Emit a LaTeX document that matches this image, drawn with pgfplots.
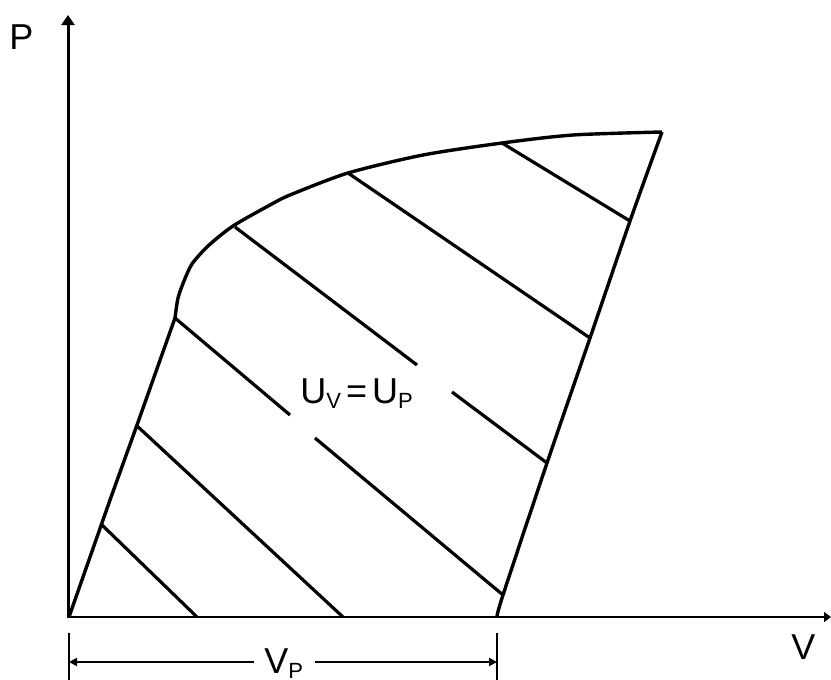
\documentclass[border=0pt]{standalone}
\usepackage{pgfplots}
\pgfplotsset{compat=1.18}
\usepackage{fontspec}
\setmainfont{Liberation Sans}
\usetikzlibrary{arrows.meta}
\begin{document}
\begin{tikzpicture}
\begin{axis}[
  scale only axis, width=415.5pt, height=340pt,
  xmin=0, xmax=831, ymin=0, ymax=680, y dir=reverse,
  hide axis, clip=false,
]
% axes
\addplot[black, line width=1.5pt, -{Triangle[length=5pt,width=6.5pt]}] coordinates {(68,618) (68,15)};
\addplot[black, line width=1.3pt, -{Triangle[length=3.5pt,width=5pt]}] coordinates {(68,617) (831,617)};
% left boundary
\addplot[black, line width=1.7pt, sharp plot] coordinates {(69,617) (110,500) (137,425) (175,318)};
% top curve
\addplot[black, line width=1.7pt, smooth, tension=0.45] coordinates {(175,318) (178,298) (184,281) (192,264) (208,246) (233,226) (270,205) (290,195) (348,173) (423,155) (502,143) (573,135) (662,132)};
% right boundary
\addplot[black, line width=1.7pt, smooth, tension=0.5] coordinates {(662,132) (630,221) (590,338) (547,463) (503,595) (497,617)};
% hatching
\addplot[black, line width=1.6pt] coordinates {(102,525) (197,617)};
\addplot[black, line width=1.6pt] coordinates {(136,425) (343,617)};
\addplot[black, line width=1.6pt] coordinates {(175,318) (290,415)};
\addplot[black, line width=1.6pt] coordinates {(315,438) (503,595)};
\addplot[black, line width=1.6pt] coordinates {(235,227) (417,365)};
\addplot[black, line width=1.6pt] coordinates {(452,392) (547,463)};
\addplot[black, line width=1.6pt] coordinates {(348,173) (590,338)};
\addplot[black, line width=1.6pt] coordinates {(502,143) (630,221)};
% dimension line
\addplot[black, line width=0.9pt] coordinates {(69,633) (69,680)};
\addplot[black, line width=0.9pt] coordinates {(497,633) (497,680)};
\addplot[black, line width=0.9pt, {Triangle[length=4pt,width=4pt]}-] coordinates {(69,662) (254,662)};
\addplot[black, line width=0.9pt, -{Triangle[length=4pt,width=4pt]}] coordinates {(315,662) (497,662)};
% labels
\node[anchor=base west, inner sep=0pt, font=\fontsize{18}{20}\selectfont] at (axis cs:9,49) {P};
\node[anchor=base west, inner sep=0pt, font=\fontsize{18}{20}\selectfont] at (axis cs:791,659) {V};
\node[anchor=base west, inner sep=0pt, font=\fontsize{18}{20}\selectfont] at (axis cs:300,403) {U\raisebox{-2.5pt}{\fontsize{11}{12}\selectfont V}\hspace{2.5pt}=\hspace{2.5pt}U\raisebox{-2.5pt}{\fontsize{11}{12}\selectfont P}};
\node[anchor=base west, inner sep=0pt, font=\fontsize{18}{20}\selectfont] at (axis cs:264,673) {V\raisebox{-2.5pt}{\fontsize{11}{12}\selectfont P}};
\end{axis}
\pgfresetboundingbox
\useasboundingbox (current axis.south west) rectangle (current axis.north east);
\end{tikzpicture}
\end{document}
